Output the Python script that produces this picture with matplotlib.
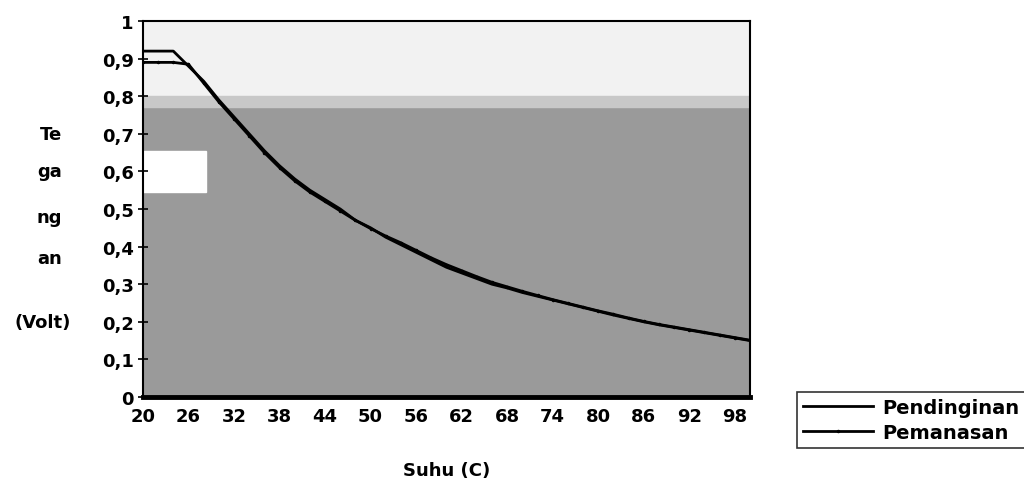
import matplotlib
matplotlib.use("Agg")
import matplotlib.pyplot as plt
from matplotlib.patches import Rectangle
from matplotlib.transforms import blended_transform_factory

# temperature (C), one point every 2 degrees
suhu = list(range(20, 101, 2))

pendinginan = [0.92, 0.92, 0.92, 0.88, 0.84, 0.79, 0.745, 0.70, 0.655, 0.615,
               0.58, 0.55, 0.525, 0.50, 0.47, 0.45, 0.425, 0.405, 0.385, 0.365,
               0.345, 0.33, 0.315, 0.30, 0.29, 0.278, 0.268, 0.258, 0.248, 0.238,
               0.228, 0.218, 0.209, 0.20, 0.192, 0.185, 0.178, 0.171, 0.164, 0.157,
               0.15]
pemanasan = [0.89, 0.89, 0.89, 0.885, 0.835, 0.785, 0.74, 0.695, 0.65, 0.61,
             0.575, 0.545, 0.52, 0.495, 0.47, 0.448, 0.428, 0.41, 0.39, 0.37,
             0.352, 0.336, 0.32, 0.305, 0.293, 0.281, 0.27, 0.259, 0.249, 0.239,
             0.229, 0.22, 0.21, 0.201, 0.193, 0.186, 0.179, 0.172, 0.165, 0.158,
             0.151]

xticks = list(range(20, 99, 6))
yticks = [i / 10 for i in range(11)]
ylabels = ["0" if v == 0 else ("1" if v == 1 else f"{v:.1f}".replace(".", ",")) for v in yticks]
# the y-axis title is wrapped into pieces beside the tick labels
ylabel_parts = [("Te", 0.70), ("ga", 0.60), ("ng", 0.48), ("an", 0.37)]

plt.rcParams.update({"font.family": "DejaVu Sans", "font.weight": "bold",
                     "font.size": 13})

fig = plt.figure(figsize=(10.24, 4.81), dpi=100)
ax = fig.add_axes([0.1396, 0.1726, 0.5928, 0.7816])

# scanned grey texture, roughly: light top band, dense grey below
ax.set_facecolor("#9a9a9a")
ax.axhspan(0.80, 1.0, color="#f2f2f2", zorder=0)
ax.axhspan(0.77, 0.80, color="#c8c8c8", zorder=0)
ax.add_patch(Rectangle((20, 0.545), 8.3, 0.11, color="white", zorder=1))

ax.plot(suhu, pendinginan, color="black", lw=2, label="Pendinginan", zorder=3)
ax.plot(suhu, pemanasan, color="black", lw=2, marker=".", markersize=3,
        label="Pemanasan", zorder=3)

ax.set_xlim(20, 100)
ax.set_ylim(0, 1)
ax.set_xticks(xticks)
ax.set_xticklabels([str(t) for t in xticks])
ax.set_yticks(yticks)
ax.set_yticklabels(ylabels)
ax.tick_params(axis="x", length=0, pad=7)
ax.tick_params(axis="y", direction="inout", length=7, width=1.2, pad=3)

for s in ["top", "left", "right"]:
    ax.spines[s].set_linewidth(1.5)
ax.spines["bottom"].set_linewidth(3.5)

ax.set_xlabel("Suhu (C)", labelpad=26, fontweight="bold")

trans = blended_transform_factory(fig.transFigure, ax.transData)
for txt, yv in ylabel_parts:
    ax.text(62 / 1024, yv, txt, transform=trans, ha="right", va="center",
            fontweight="bold")
ax.text(71 / 1024, 0.20, "(Volt)", transform=trans, ha="right", va="center",
        fontweight="bold")

leg = fig.legend(loc="upper left", bbox_to_anchor=(797 / 1024, 1 - 393 / 481),
                 frameon=True, fancybox=False, edgecolor="black", handlelength=3.6,
                 borderpad=0.3, labelspacing=0.3, handletextpad=0.5,
                 borderaxespad=0, prop={"weight": "bold", "size": 14})
leg.get_frame().set_linewidth(1.2)

fig.savefig("out.png", dpi=100)
